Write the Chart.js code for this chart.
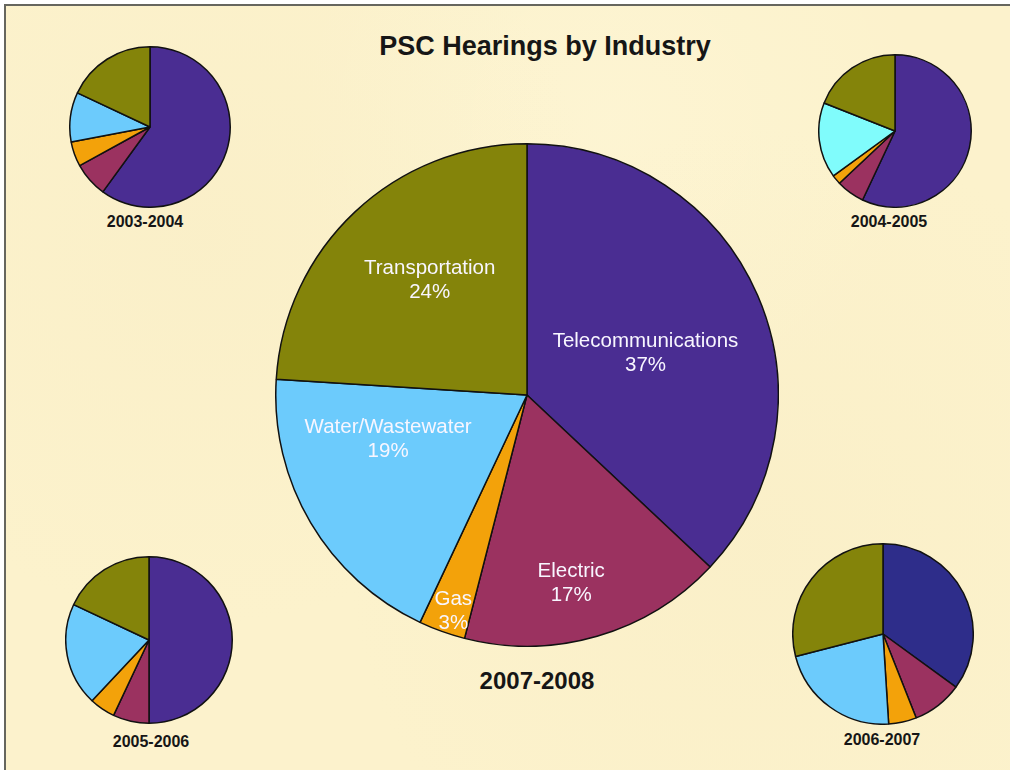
<!DOCTYPE html>
<html>
<head>
<meta charset="utf-8">
<title>PSC Hearings by Industry</title>
<script src="https://cdn.jsdelivr.net/npm/chart.js@4.4.0/dist/chart.umd.min.js"></script>
<style>
  html, body { margin: 0; padding: 0; background: #ffffff; }
  #frame {
    position: absolute; left: 4px; top: 4px; width: 1010px; height: 770px;
    border-top: 2px solid #66665e; border-left: 2px solid #66665e;
    background: #fcf2cc;
    background-image:
      radial-gradient(circle at 20% 30%, rgba(245,232,190,0.25), rgba(255,255,255,0) 40%),
      radial-gradient(circle at 75% 70%, rgba(245,232,190,0.25), rgba(255,255,255,0) 45%),
      radial-gradient(circle at 60% 15%, rgba(255,250,225,0.3), rgba(255,255,255,0) 35%);
    overflow: hidden;
    font-family: "Liberation Sans", Arial, sans-serif;
  }
  canvas { position: absolute; }
  .txt { position: absolute; font-weight: bold; color: #161616; white-space: nowrap; transform: translate(-50%, -50%); }
</style>
</head>
<body>
<div id="frame">
  <div class="txt" style="left:539px; top:40px; font-size:27px;">PSC Hearings by Industry</div>

  <canvas id="pie2003" width="162" height="162" style="left:63px; top:40px;"></canvas>
  <canvas id="pie2004" width="154" height="154" style="left:812px; top:48px;"></canvas>
  <canvas id="pie2005" width="168" height="168" style="left:59px; top:550px;"></canvas>
  <canvas id="pie2006" width="182" height="182" style="left:786px; top:537px;"></canvas>
  <canvas id="pie2007" width="504" height="504" style="left:269px; top:137px;"></canvas>

  <div class="txt" style="left:139px; top:216px; font-size:16px;">2003-2004</div>
  <div class="txt" style="left:883px; top:216px; font-size:16px;">2004-2005</div>
  <div class="txt" style="left:145px; top:736px; font-size:16px;">2005-2006</div>
  <div class="txt" style="left:876px; top:734px; font-size:16px;">2006-2007</div>
  <div class="txt" style="left:531px; top:675px; font-size:24px;">2007-2008</div>
</div>

<script>
// Categorias y porcentajes por año
const industries = ['Telecommunications', 'Electric', 'Gas', 'Water/Wastewater', 'Transportation'];
const years = ['2003-2004', '2004-2005', '2005-2006', '2006-2007', '2007-2008'];

const share2003 = [60, 7, 5, 10, 18];
const share2004 = [57, 6, 2, 16, 19];
const share2005 = [50, 7, 5, 20, 18];
const share2006 = [35, 9, 5, 22, 29];
const share2007 = [37, 17, 3, 19, 24];

// Colores
const baseColors = ['#4a2d92', '#9b3260', '#f3a20a', '#6ccbfc', '#84840a'];
const colors2004 = ['#4a2d92', '#9b3260', '#f3a20a', '#80fcfc', '#84840a'];
const colors2006 = ['#2e2d8a', '#9b3260', '#f3a20a', '#6ccbfc', '#84840a'];

// Plugin para etiquetas dentro de las rebanadas (solo la grafica grande)
const sliceLabels = {
    id: 'sliceLabels',
    afterDatasetsDraw(chart, args, opts) {
        if (!opts.show) return;
        const ctx = chart.ctx;
        const meta = chart.getDatasetMeta(0);
        const values = chart.data.datasets[0].data;
        ctx.save();
        ctx.fillStyle = '#f8f6ff';
        ctx.font = '20.5px "Liberation Sans", Arial, sans-serif';
        ctx.textAlign = 'center';
        ctx.textBaseline = 'middle';
        meta.data.forEach(function(arc, i) {
            const p = arc.getProps(['x', 'y', 'startAngle', 'endAngle', 'outerRadius'], true);
            const mid = (p.startAngle + p.endAngle) / 2 + opts.shift[i] * Math.PI / 180;
            const r = p.outerRadius * opts.radius[i];
            const x = p.x + Math.cos(mid) * r;
            const y = p.y + Math.sin(mid) * r;
            ctx.fillText(chart.data.labels[i], x, y - 12);
            ctx.fillText(values[i] + '%', x, y + 12);
        });
        ctx.restore();
    }
};

function makePie(id, values, colors, withLabels) {
    return new Chart(document.getElementById(id), {
        type: 'pie',
        data: {
            labels: industries,
            datasets: [{
                data: values,
                backgroundColor: colors,
                borderColor: '#111111',
                borderWidth: 1.5
            }]
        },
        options: {
            responsive: false,
            animation: false,
            layout: { padding: 0 },
            plugins: {
                legend: { display: false },
                tooltip: { enabled: false },
                title: { display: false },
                sliceLabels: {
                    show: withLabels,
                    radius: [0.5, 0.77, 0.91, 0.58, 0.6],
                    shift: [4, 3, -1, 13, 3]
                }
            }
        },
        plugins: [sliceLabels]
    });
}

makePie('pie2003', share2003, baseColors, false);
makePie('pie2004', share2004, colors2004, false);
makePie('pie2005', share2005, baseColors, false);
makePie('pie2006', share2006, colors2006, false);
makePie('pie2007', share2007, baseColors, true);
</script>
</body>
</html>
